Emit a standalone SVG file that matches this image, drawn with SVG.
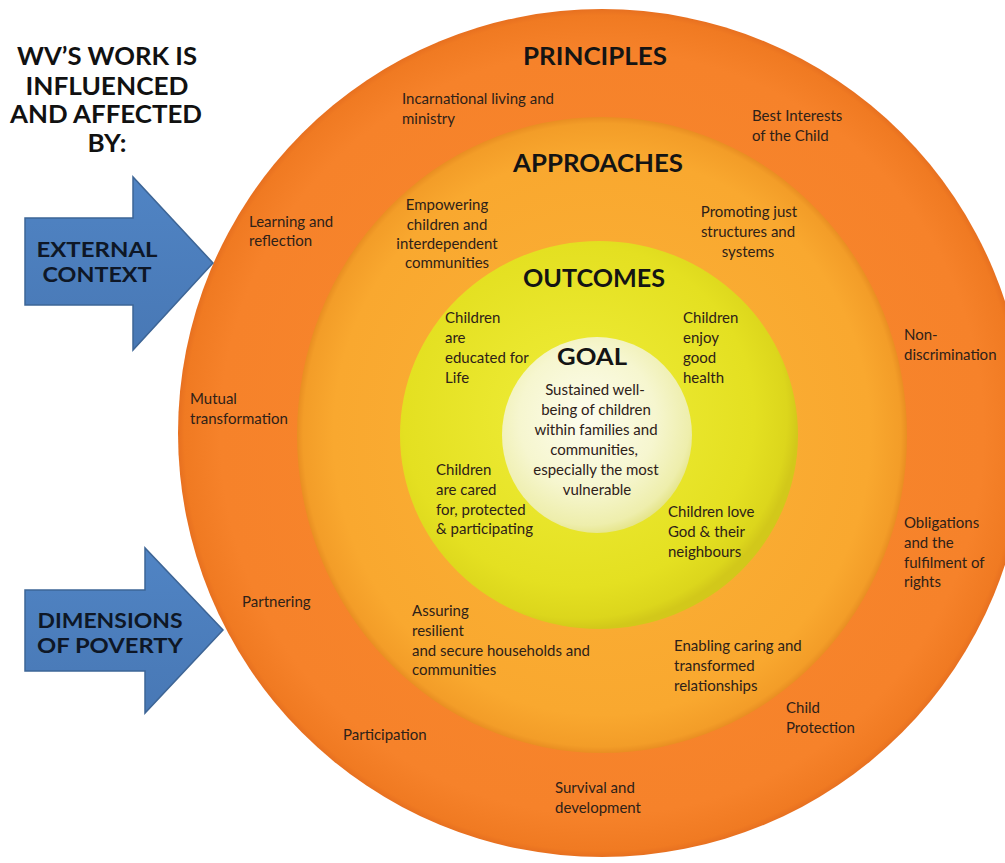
<svg xmlns="http://www.w3.org/2000/svg" width="1005" height="863" viewBox="0 0 1005 863">
<defs>
<style>
text { font-family: Lato, "Open Sans", "Liberation Sans", sans-serif; }
.lbl { font-size: 15px; fill: #2e2118; }
.mid { text-anchor: middle; }
.hd { font-size: 25px; font-weight: 700; fill: #141414; text-anchor: middle; }
.ttl { font-size: 24px; font-weight: 700; fill: #111111; text-anchor: middle; }
.arrtxt { font-size: 21px; font-weight: 700; fill: #0e1726; text-anchor: middle; }
.arrow { fill: url(#blue); stroke: #3d6596; stroke-width: 1.5; stroke-linejoin: miter; }
</style>
<radialGradient id="gOuter" cx="0.5" cy="0.5" r="0.5">
<stop offset="0" stop-color="#F98A2E"/>
<stop offset="0.9" stop-color="#F6822A"/>
<stop offset="0.985" stop-color="#F07A22"/>
<stop offset="1" stop-color="#E77020"/>
</radialGradient>
<radialGradient id="gAppr" cx="0.5" cy="0.5" r="0.5">
<stop offset="0" stop-color="#FBB238"/>
<stop offset="0.88" stop-color="#F9A82F"/>
<stop offset="0.98" stop-color="#F39D28"/>
<stop offset="1" stop-color="#E98E22"/>
</radialGradient>
<radialGradient id="gOut" cx="0.45" cy="0.45" r="0.55">
<stop offset="0" stop-color="#F0EE3A"/>
<stop offset="0.8" stop-color="#E4E021"/>
<stop offset="0.95" stop-color="#DCD61C"/>
<stop offset="1" stop-color="#D2C81A"/>
</radialGradient>
<radialGradient id="gGoal" cx="0.45" cy="0.42" r="0.6">
<stop offset="0" stop-color="#FDFDEE"/>
<stop offset="0.6" stop-color="#F6F6CF"/>
<stop offset="0.9" stop-color="#EEEEAC"/>
<stop offset="1" stop-color="#E4E385"/>
</radialGradient>
<linearGradient id="blue" x1="0" y1="0" x2="0" y2="1">
<stop offset="0" stop-color="#5084C4"/>
<stop offset="1" stop-color="#4878B5"/>
</linearGradient>
</defs>

<rect x="0" y="0" width="1005" height="863" fill="#FFFFFF"/>

<g id="title">
<text class="ttl" x="107" y="65" textLength="180" lengthAdjust="spacingAndGlyphs">WV’S WORK IS</text>
<text class="ttl" x="107" y="95" textLength="163" lengthAdjust="spacingAndGlyphs">INFLUENCED</text>
<text class="ttl" x="106" y="123" textLength="192" lengthAdjust="spacingAndGlyphs">AND AFFECTED</text>
<text class="ttl" x="107" y="152" textLength="39" lengthAdjust="spacingAndGlyphs">BY:</text>
</g>

<g id="ring-principles">
<circle cx="602" cy="433" r="424" fill="url(#gOuter)"/>
<text class="hd" x="595" y="65" textLength="144" lengthAdjust="spacingAndGlyphs">PRINCIPLES</text>
<text class="lbl"><tspan x="402" y="104">Incarnational living and</tspan><tspan x="402" y="124">ministry</tspan></text>
<text class="lbl"><tspan x="752" y="121">Best Interests</tspan><tspan x="752" y="141">of the Child</tspan></text>
<text class="lbl"><tspan x="249" y="227">Learning and</tspan><tspan x="249" y="246">reflection</tspan></text>
<text class="lbl"><tspan x="190" y="404">Mutual</tspan><tspan x="190" y="424">transformation</tspan></text>
<text class="lbl"><tspan x="242" y="607">Partnering</tspan></text>
<text class="lbl"><tspan x="343" y="740">Participation</tspan></text>
<text class="lbl"><tspan x="555" y="793">Survival and</tspan><tspan x="555" y="813">development</tspan></text>
<text class="lbl"><tspan x="786" y="713">Child</tspan><tspan x="786" y="733">Protection</tspan></text>
<text class="lbl"><tspan x="904" y="528">Obligations</tspan><tspan x="904" y="548">and the</tspan><tspan x="904" y="568">fulfilment of</tspan><tspan x="904" y="587">rights</tspan></text>
<text class="lbl"><tspan x="904" y="340">Non-</tspan><tspan x="904" y="360">discrimination</tspan></text>
</g>

<g id="ring-approaches">
<ellipse cx="602" cy="435" rx="305" ry="318" fill="url(#gAppr)"/>
<text class="hd" x="598" y="172" textLength="170" lengthAdjust="spacingAndGlyphs">APPROACHES</text>
<text class="lbl mid"><tspan x="447" y="210">Empowering</tspan><tspan x="447" y="230">children and</tspan><tspan x="447" y="249">interdependent</tspan><tspan x="447" y="268">communities</tspan></text>
<text class="lbl mid"><tspan x="749" y="217">Promoting  just</tspan><tspan x="748" y="237">structures and</tspan><tspan x="748" y="257">systems</tspan></text>
<text class="lbl"><tspan x="412" y="616">Assuring</tspan><tspan x="412" y="636">resilient</tspan><tspan x="412" y="656">and secure households and</tspan><tspan x="412" y="675">communities</tspan></text>
<text class="lbl"><tspan x="674" y="651">Enabling caring and</tspan><tspan x="674" y="671">transformed</tspan><tspan x="674" y="691">relationships</tspan></text>
</g>

<g id="ring-outcomes">
<ellipse cx="599" cy="435" rx="199" ry="194" fill="url(#gOut)"/>
<text class="hd" x="594" y="287" textLength="142" lengthAdjust="spacingAndGlyphs">OUTCOMES</text>
<text class="lbl"><tspan x="445" y="323">Children</tspan><tspan x="445" y="343">are</tspan><tspan x="445" y="363">educated for</tspan><tspan x="445" y="383">Life</tspan></text>
<text class="lbl"><tspan x="683" y="323">Children</tspan><tspan x="683" y="343">enjoy</tspan><tspan x="683" y="363">good</tspan><tspan x="683" y="383">health</tspan></text>
<text class="lbl"><tspan x="436" y="475">Children</tspan><tspan x="436" y="495">are cared</tspan><tspan x="436" y="515">for, protected</tspan><tspan x="436" y="534">&amp; participating</tspan></text>
<text class="lbl"><tspan x="668" y="517">Children love</tspan><tspan x="668" y="537">God &amp; their</tspan><tspan x="668" y="557">neighbours</tspan></text>
</g>

<g id="goal">
<ellipse cx="597" cy="435" rx="95" ry="98" fill="url(#gGoal)"/>
<text class="hd" x="592" y="365" style="font-size:22px" textLength="70" lengthAdjust="spacingAndGlyphs">GOAL</text>
<text class="lbl mid"><tspan x="595" y="395">Sustained well-</tspan><tspan x="596" y="415">being of  children</tspan><tspan x="596" y="435">within families and</tspan><tspan x="594" y="455">communities,</tspan><tspan x="596" y="475">especially the most</tspan><tspan x="597" y="495">vulnerable</tspan></text>
</g>

<g id="arrow-external">
<polygon class="arrow" points="25,218 133,218 133,177 213,263 133,350 133,305 25,305"/>
<text class="arrtxt" x="97" y="257" textLength="121" lengthAdjust="spacingAndGlyphs">EXTERNAL</text>
<text class="arrtxt" x="97" y="282" textLength="109" lengthAdjust="spacingAndGlyphs">CONTEXT</text>
</g>

<g id="arrow-poverty">
<polygon class="arrow" points="25,590 145,590 145,548 223,630 145,713 145,671 25,671"/>
<text class="arrtxt" x="110" y="628" textLength="145" lengthAdjust="spacingAndGlyphs">DIMENSIONS</text>
<text class="arrtxt" x="110" y="653" textLength="146" lengthAdjust="spacingAndGlyphs">OF  POVERTY</text>
</g>

<g id="connectors"></g>
</svg>
